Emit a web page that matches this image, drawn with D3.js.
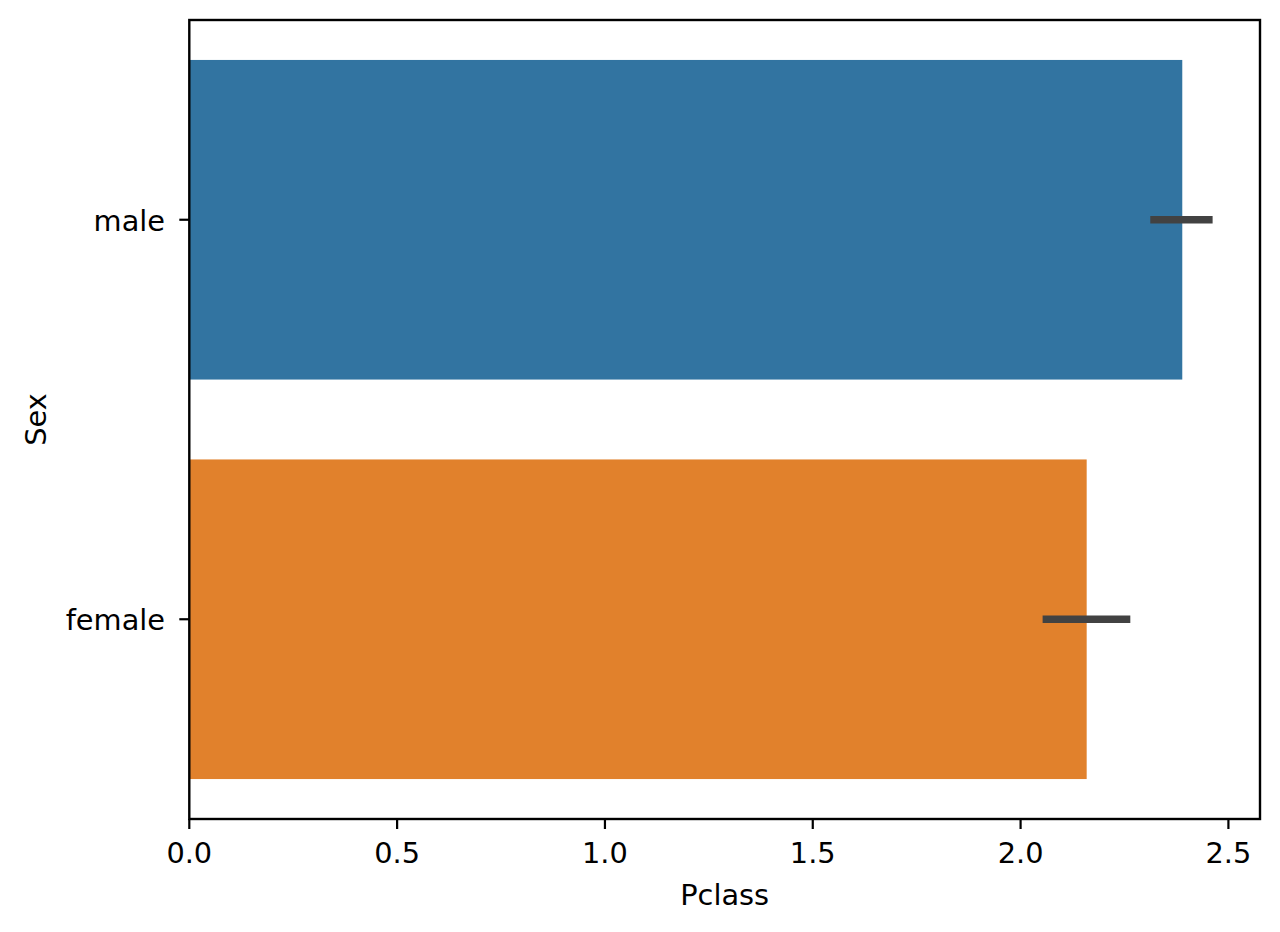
<!DOCTYPE html>
<html>
<head>
<meta charset="utf-8">
<script src="https://cdn.jsdelivr.net/npm/d3@7"></script>
<style>
  html, body { margin: 0; padding: 0; background: #ffffff; }
  svg { display: block; }
  text { font-family: "DejaVu Sans", sans-serif; fill: #000; }
</style>
</head>
<body>
<svg id="chart" width="1280" height="932"></svg>
<script>
// Data
const categories = ["male", "female"];
const means = [2.389, 2.159];
const ciLow = [2.312, 2.053];
const ciHigh = [2.462, 2.264];
const colors = ["#3274a1", "#e1812c"];
const xTicks = [0.0, 0.5, 1.0, 1.5, 2.0, 2.5];
const xLabel = "Pclass";
const yLabel = "Sex";

const svg = d3.select("#chart");
const plotLeft = 189.3, plotRight = 1260, plotTop = 20, plotBottom = 819;
const fs = 28.8;

const x = d3.scaleLinear().domain([0, 2.576]).range([plotLeft, plotRight]);
const y = d3.scaleBand().domain(categories).range([plotTop, plotBottom]).paddingInner(0.2).paddingOuter(0.1);
const yc = d => y(d) + y.bandwidth() / 2;
const barH = y.bandwidth();

// Bars
svg.append("g").selectAll("rect").data(categories).join("rect")
  .attr("x", x(0))
  .attr("y", d => y(d))
  .attr("width", (d, i) => x(means[i]) - x(0))
  .attr("height", barH)
  .attr("fill", (d, i) => colors[i]);

// Error bars
svg.append("g").selectAll("line").data(categories).join("line")
  .attr("x1", (d, i) => x(ciLow[i]))
  .attr("x2", (d, i) => x(ciHigh[i]))
  .attr("y1", d => yc(d))
  .attr("y2", d => yc(d))
  .attr("stroke", "#424242")
  .attr("stroke-width", 7.5);

// Spines
svg.append("rect")
  .attr("x", plotLeft).attr("y", plotTop)
  .attr("width", plotRight - plotLeft).attr("height", plotBottom - plotTop)
  .attr("fill", "none").attr("stroke", "#000").attr("stroke-width", 2.4);

// X ticks
const xg = svg.append("g");
xg.selectAll("line").data(xTicks).join("line")
  .attr("x1", d => x(d)).attr("x2", d => x(d))
  .attr("y1", plotBottom).attr("y2", plotBottom + 10)
  .attr("stroke", "#000").attr("stroke-width", 2.2);
xg.selectAll("text").data(xTicks).join("text")
  .attr("x", d => x(d)).attr("y", 863)
  .attr("text-anchor", "middle")
  .style("font-size", fs + "px")
  .text(d => d3.format(".1f")(d));

// Y ticks
const yg = svg.append("g");
yg.selectAll("line").data(categories).join("line")
  .attr("x1", plotLeft - 10).attr("x2", plotLeft)
  .attr("y1", d => yc(d)).attr("y2", d => yc(d))
  .attr("stroke", "#000").attr("stroke-width", 2.2);
yg.selectAll("text").data(categories).join("text")
  .attr("x", 165).attr("y", d => yc(d))
  .attr("dy", "0.38em")
  .attr("text-anchor", "end")
  .style("font-size", fs + "px")
  .text(d => d);

// Axis labels
svg.append("text")
  .attr("x", (plotLeft + plotRight) / 2).attr("y", 905)
  .attr("text-anchor", "middle")
  .style("font-size", fs + "px")
  .text(xLabel);

svg.append("text")
  .attr("transform", `translate(46, ${(plotTop + plotBottom) / 2}) rotate(-90)`)
  .attr("text-anchor", "middle")
  .style("font-size", fs + "px")
  .text(yLabel);
</script>
</body>
</html>
